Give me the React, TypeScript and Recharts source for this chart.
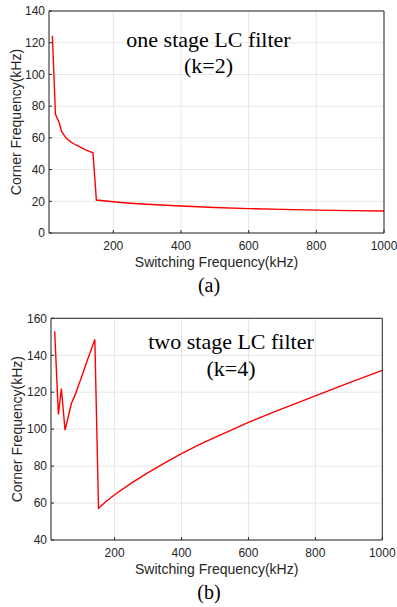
import React from "react";
import {
  CartesianGrid,
  Line,
  LineChart,
  XAxis,
  YAxis,
} from "recharts";

// (a) one stage LC filter, k=2
const FREQ_A = [20, 29, 41, 47, 61, 75, 90, 120, 140, 150, 200, 250, 300, 400, 500, 600, 700, 800, 900, 1000];
const CORNER_A = [124.4, 75, 69, 64, 59.7, 57.3, 55.5, 52.3, 50.6, 20.8, 19.7, 18.8, 18.1, 17.0, 16.1, 15.4, 14.9, 14.4, 14.1, 13.9];

// (b) two stage LC filter, k=4
const FREQ_B = [21, 32, 41, 52, 62, 71, 80, 100, 120, 141, 152, 175, 200, 250, 300, 350, 400, 450, 500, 600, 700, 800, 900, 1000];
const CORNER_B = [153, 108, 122, 99.5, 107, 114, 117.6, 127.5, 138, 148.6, 57.2, 61, 64.5, 70.8, 76.5, 81.8, 86.8, 91.3, 95.6, 103.7, 111, 118, 125, 131.8];

const X_TICKS = [200, 400, 600, 800, 1000];
const Y_TICKS_A = [0, 20, 40, 60, 80, 100, 120, 140];
const Y_TICKS_B = [40, 60, 80, 100, 120, 140, 160];

const W = 397;
const INK = "#262626";
const SANS = "'Liberation Sans', Arial, sans-serif";
const SERIF = "'Liberation Serif', 'Times New Roman', serif";

const toRows = (xs: number[], ys: number[]) => xs.map((f, i) => ({ f, c: ys[i] }));

function YLabel({ viewBox }: any) {
  const cx = viewBox.x + viewBox.width - 33.5;
  const cy = viewBox.y + viewBox.height / 2;
  return (
    <text
      x={cx}
      y={cy}
      transform={`rotate(-90 ${cx} ${cy})`}
      textAnchor="middle"
      dominantBaseline="central"
      fill={INK}
      fontSize={14}
      fontFamily={SANS}
    >
      Corner Frequency(kHz)
    </text>
  );
}

type PanelProps = {
  xs: number[];
  ys: number[];
  yDomain: [number, number];
  yTicks: number[];
  height: number;
  top: number;
  yWidth: number;
  right: number;
};

function Panel({ xs, ys, yDomain, yTicks, height, top, yWidth, right }: PanelProps) {
  const data = toRows(xs, ys);
  const tickStyle = { fontSize: 12, fill: INK, fontFamily: SANS };
  return (
    <LineChart
      width={W}
      height={height}
      data={data}
      margin={{ top, right, bottom: 0, left: 0 }}
    >
      <CartesianGrid stroke="#e6e6e6" />
      <XAxis
        dataKey="f"
        type="number"
        domain={[10, 1000]}
        ticks={X_TICKS}
        height={42}
        tick={tickStyle}
        tickSize={-3}
        tickMargin={11.5}
        stroke={INK}
        allowDataOverflow
        label={{
          value: "Switching Frequency(kHz)",
          position: "insideBottom",
          offset: 7.7,
          fill: INK,
          fontSize: 14,
          fontFamily: SANS,
        }}
      />
      <XAxis
        xAxisId="top"
        orientation="top"
        dataKey="f"
        type="number"
        domain={[10, 1000]}
        ticks={X_TICKS}
        height={1}
        tick={false}
        tickSize={-3}
        stroke={INK}
        allowDataOverflow
      />
      <YAxis
        type="number"
        domain={yDomain}
        ticks={yTicks}
        width={yWidth}
        tick={tickStyle}
        tickSize={-3}
        tickMargin={7}
        stroke={INK}
        allowDataOverflow
        label={<YLabel />}
      />
      <YAxis
        yAxisId="right"
        orientation="right"
        type="number"
        domain={yDomain}
        ticks={yTicks}
        width={1}
        tick={false}
        tickSize={-3}
        stroke={INK}
        allowDataOverflow
      />
      <Line
        dataKey="c"
        type="linear"
        stroke="#ff0000"
        strokeWidth={1.4}
        dot={false}
        isAnimationActive={false}
      />
    </LineChart>
  );
}

export default function App() {
  const serif = { fontFamily: SERIF, fill: "#000" };
  return (
    <div style={{ position: "absolute", left: 0, top: 0, width: W, height: 607, background: "#fff" }}>
      <div style={{ position: "absolute", left: 0, top: 0 }}>
        <Panel xs={FREQ_A} ys={CORNER_A} yDomain={[0, 140]} yTicks={Y_TICKS_A} height={275} top={10} yWidth={49} right={12} />
      </div>
      <div style={{ position: "absolute", left: 0, top: 300 }}>
        <Panel xs={FREQ_B} ys={CORNER_B} yDomain={[40, 160]} yTicks={Y_TICKS_B} height={282} top={17.3} yWidth={51} right={13.7} />
      </div>
      <svg
        width={W}
        height={607}
        style={{ position: "absolute", left: 0, top: 0, pointerEvents: "none" }}
      >
        <text x={208.5} y={47} textAnchor="middle" fontSize={22} {...serif}>one stage LC filter</text>
        <text x={208.5} y={72.5} textAnchor="middle" fontSize={22} {...serif}>(k=2)</text>
        <text x={209} y={291.5} textAnchor="middle" fontSize={20} {...serif}>(a)</text>
        <text x={231} y={348.8} textAnchor="middle" fontSize={22} {...serif}>two stage LC filter</text>
        <text x={231} y={375.5} textAnchor="middle" fontSize={22} {...serif}>(k=4)</text>
        <text x={209} y={599} textAnchor="middle" fontSize={20} {...serif}>(b)</text>
      </svg>
    </div>
  );
}
